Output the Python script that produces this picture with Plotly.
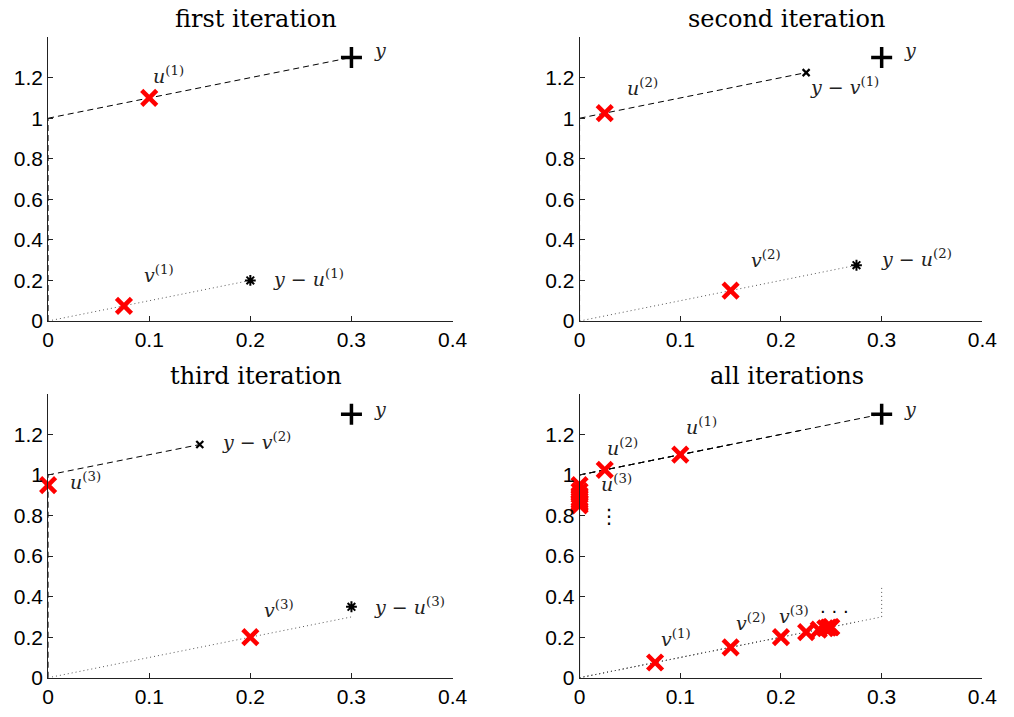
import plotly.graph_objects as go

# ---- data ----
Y_PT = (0.3, 1.3)
# iteration points
U_X = [0.1, 0.025, 0.0]
U_Y = [1.1, 1.025, 0.95]
V_X = [0.075, 0.15, 0.2]
V_Y = [0.075, 0.15, 0.2]
YMU_X = [0.2, 0.275, 0.3]        # y - u(k)
YMU_Y = [0.2, 0.275, 0.35]
YMV_X = [0.225, 0.15]            # y - v(k) (k=1,2)
YMV_Y = [1.225, 1.15]
# ends of the dashed (U) and dotted (V) segments per panel
DASH_END_X = [0.3, 0.225, 0.15]
DASH_END_Y = [1.3, 1.225, 1.15]
DOT_END_X = [0.2, 0.275, 0.3]
DOT_END_Y = [0.2, 0.275, 0.3]
# all iterations
ALLU_X = [0.1, 0.025, 0.0, 0.0, 0.0, 0.0, 0.0, 0.0, 0.0, 0.0]
ALLU_Y = [1.1, 1.025, 0.95, 0.92, 0.9, 0.885, 0.875, 0.865, 0.857, 0.85]
ALLV_X = [0.075, 0.15, 0.2, 0.225, 0.2375, 0.244, 0.247, 0.249, 0.25]
ALLV_Y = [0.075, 0.15, 0.2, 0.225, 0.2375, 0.244, 0.247, 0.249, 0.25]
VERT_X = [0.3, 0.3]
VERT_Y = [0.3, 0.45]

TITLES = ["first iteration", "second iteration", "third iteration", "all iterations"]
XTICKS = [0, 0.1, 0.2, 0.3, 0.4]
XTICKTEXT = ["0", "0.1", "0.2", "0.3", "0.4"]
YTICKS = [0, 0.2, 0.4, 0.6, 0.8, 1.0, 1.2]
YTICKTEXT = ["0", "0.2", "0.4", "0.6", "0.8", "1", "1.2"]

# labels per panel: (text, x, y)
LABELS = [
    [("<i>y</i>", 0.32, 1.335), ("<i>u</i><sup>(1)</sup>", 0.102, 1.215),
     ("<i>v</i><sup>(1)</sup>", 0.093, 0.23), ("<i>y</i> − <i>u</i><sup>(1)</sup>", 0.22, 0.21)],
    [("<i>y</i>", 0.32, 1.335), ("<i>y</i> − <i>v</i><sup>(1)</sup>", 0.227, 1.16),
     ("<i>u</i><sup>(2)</sup>", 0.045, 1.155), ("<i>v</i><sup>(2)</sup>", 0.168, 0.305),
     ("<i>y</i> − <i>u</i><sup>(2)</sup>", 0.297, 0.31)],
    [("<i>y</i>", 0.32, 1.325), ("<i>y</i> − <i>v</i><sup>(2)</sup>", 0.17, 1.17),
     ("<i>u</i><sup>(3)</sup>", 0.02, 0.97), ("<i>v</i><sup>(3)</sup>", 0.212, 0.34),
     ("<i>y</i> − <i>u</i><sup>(3)</sup>", 0.32, 0.355)],
    [("<i>y</i>", 0.32, 1.325), ("<i>u</i><sup>(1)</sup>", 0.104, 1.243),
     ("<i>u</i><sup>(2)</sup>", 0.025, 1.14), ("<i>u</i><sup>(3)</sup>", 0.019, 0.96),
     ("<i>v</i><sup>(1)</sup>", 0.079, 0.195), ("<i>v</i><sup>(2)</sup>", 0.153, 0.274),
     ("<i>v</i><sup>(3)</sup>", 0.196, 0.307)],
]
DOTS = [("⋮", 0.029, 0.80, 20), (". . .", 0.253, 0.35, 18)]

W, H = 1014, 717
XDOM = [(43 / W, 456 / W), (585.7 / W, 997 / W)]
YDOM = [(1 - 326 / H, 1 - 37.7 / H), (1 - 688.3 / H, 1 - 400 / H)]

fig = go.Figure()

RED = dict(symbol="x-thin", size=15, color="red", line=dict(color="red", width=4.5))
PLUS = dict(symbol="cross-thin", size=15, color="black", line=dict(color="black", width=3.5))
AST = dict(symbol="asterisk", size=9, color="black", line=dict(color="black", width=2))
SMX = dict(symbol="x-thin", size=7, color="black", line=dict(color="black", width=2.2))
DASH = dict(color="black", width=1, dash="6px,4px")
DOT = dict(color="#555555", width=1, dash="1px,3px")


def add(ax, **kw):
    xa = "x" if ax == 1 else f"x{ax}"
    ya = "y" if ax == 1 else f"y{ax}"
    fig.add_trace(go.Scatter(xaxis=xa, yaxis=ya, showlegend=False, hoverinfo="skip",
                             cliponaxis=False, **kw))


for i in range(3):
    ax = i + 1
    add(ax, x=[0, 0], y=[0, 1], mode="lines", line=DASH)
    add(ax, x=[0, DASH_END_X[i]], y=[1, DASH_END_Y[i]], mode="lines", line=DASH)
    add(ax, x=[0, DOT_END_X[i]], y=[0, DOT_END_Y[i]], mode="lines", line=DOT)
    add(ax, x=[Y_PT[0]], y=[Y_PT[1]], mode="markers", marker=PLUS)
    add(ax, x=[YMU_X[i]], y=[YMU_Y[i]], mode="markers", marker=AST)
    if i >= 1:
        add(ax, x=[YMV_X[i - 1]], y=[YMV_Y[i - 1]], mode="markers", marker=SMX)
    add(ax, x=[U_X[i], V_X[i]], y=[U_Y[i], V_Y[i]], mode="markers", marker=RED)

# panel 4
ax = 4
add(ax, x=[0, 0], y=[0, 1], mode="lines", line=dict(color="black", width=1))
for i in range(3):
    add(ax, x=[0, DASH_END_X[i]], y=[1, DASH_END_Y[i]], mode="lines", line=DASH)
    add(ax, x=[0, DOT_END_X[i]], y=[0, DOT_END_Y[i]], mode="lines", line=DOT)
add(ax, x=VERT_X, y=VERT_Y, mode="lines", line=DOT)
add(ax, x=[Y_PT[0]], y=[Y_PT[1]], mode="markers", marker=PLUS)
add(ax, x=ALLU_X, y=ALLU_Y, mode="markers", marker=RED)
add(ax, x=ALLV_X, y=ALLV_Y, mode="markers", marker=RED)

layout = dict(width=W, height=H, margin=dict(l=0, r=0, t=0, b=0),
              plot_bgcolor="white", paper_bgcolor="white")
annotations = []
for k in range(4):
    col, row = k % 2, k // 2
    sx = "" if k == 0 else str(k + 1)
    layout[f"xaxis{sx}"] = dict(
        domain=XDOM[col], range=[0, 0.4], anchor=f"y{sx}", tickvals=XTICKS, ticktext=XTICKTEXT,
        showgrid=False, zeroline=False, showline=True, linecolor="#222222", linewidth=1,
        ticks="inside", ticklen=5, tickcolor="#222222",
        tickfont=dict(family="Liberation Sans", size=21, color="black"))
    layout[f"yaxis{sx}"] = dict(
        domain=YDOM[row], range=[0, 1.4], anchor=f"x{sx}", tickvals=YTICKS, ticktext=YTICKTEXT,
        showgrid=False, zeroline=False, showline=True, linecolor="#222222", linewidth=1,
        ticks="inside", ticklen=5, tickcolor="#222222",
        tickfont=dict(family="Liberation Sans", size=21, color="black"))
    # title
    annotations.append(dict(text=TITLES[k], xref="paper", yref="paper",
                            x=(XDOM[col][0] + XDOM[col][1]) / 2 + 0.006, y=YDOM[row][1] + 0.003,
                            xanchor="center", yanchor="bottom", showarrow=False,
                            font=dict(family="DejaVu Serif", size=24, color="black")))
    for (t, x, y) in LABELS[k]:
        annotations.append(dict(text=t, x=x, y=y, xref=f"x{sx}", yref=f"y{sx}",
                                xanchor="left", yanchor="middle", showarrow=False,
                                font=dict(family="DejaVu Serif", size=19, color="#222222")))
for (t, x, y, s) in DOTS:
    annotations.append(dict(text=t, x=x, y=y, xref="x4", yref="y4", xanchor="center",
                            yanchor="middle", showarrow=False,
                            font=dict(family="DejaVu Sans", size=s, color="black")))
layout["annotations"] = annotations
fig.update_layout(**layout)
fig.write_html("out.html")
